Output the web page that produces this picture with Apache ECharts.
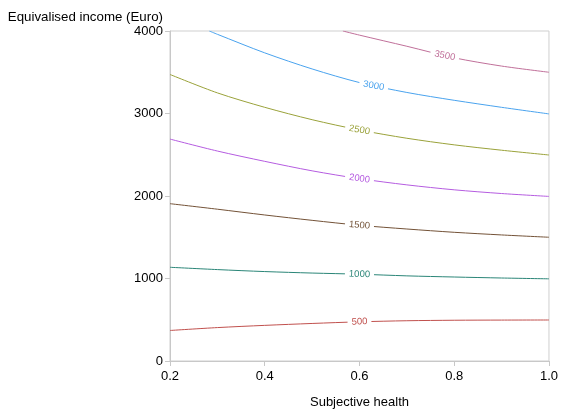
<!DOCTYPE html>
<html>
<head>
<meta charset="utf-8">
<script src="https://cdn.jsdelivr.net/npm/echarts@6/dist/echarts.min.js"></script>
<style>
  html, body { margin: 0; padding: 0; background: #fff; }
  #chart { width: 561px; height: 414px; }
</style>
</head>
<body>
<div id="chart"></div>
<script>
// contour levels and their traced points (x = subjective health, y = income)
var levels = [500, 1000, 1500, 2000, 2500, 3000, 3500];
var colors = ['#c0504d', '#2a8577', '#735237', '#b55ce0', '#9aa23a', '#4aa3ee', '#c0709a'];

var xFull = [0.2, 0.3, 0.4, 0.5, 0.6, 0.7, 0.8, 0.9, 1.0];
var y500  = [370, 405, 432, 455, 475, 488, 494, 496, 497];
var y1000 = [1136, 1108, 1084, 1066, 1052, 1032, 1018, 1006, 996];
var y1500 = [1907, 1840, 1770, 1705, 1645, 1600, 1560, 1528, 1500];
var y2000 = [2690, 2545, 2420, 2305, 2210, 2135, 2075, 2030, 1995];
var y2500 = [3473, 3250, 3075, 2925, 2800, 2700, 2620, 2555, 2497];
var x3000 = [0.283, 0.3, 0.4, 0.5, 0.6, 0.7, 0.8, 0.9, 1.0];
var y3000 = [4000, 3960, 3735, 3540, 3375, 3255, 3160, 3075, 2995];
var x3500 = [0.565, 0.6, 0.7, 0.8, 0.9, 1.0];
var y3500 = [4000, 3950, 3815, 3675, 3575, 3500];

// where each contour carries its label, and the label angle
var labelX = [0.6, 0.6, 0.6, 0.6, 0.6, 0.63, 0.78];
var labelY = [475, 1052, 1645, 2210, 2800, 3335, 3700];
var labelRot = [2, -2, -5, -8, -10, -10, -11];

var lineXs = [xFull, xFull, xFull, xFull, xFull, x3000, x3500];
var lineYs = [y500, y1000, y1500, y2000, y2500, y3000, y3500];

var font = 'Arial, Liberation Sans, sans-serif';
var myChart = echarts.init(document.getElementById('chart'));

var series = levels.map(function (lv, i) {
  return {
    name: String(lv),
    type: 'line',
    smooth: 0.3,
    symbol: 'none',
    lineStyle: { color: colors[i], width: 1 },
    data: lineXs[i].map(function (x, j) { return [x, lineYs[i][j]]; }),
    markPoint: {
      symbol: 'circle',
      symbolSize: 1,
      itemStyle: { color: 'rgba(0,0,0,0)' },
      data: [{
        coord: [labelX[i], labelY[i]],
        value: lv,
        label: {
          show: true,
          position: 'inside',
          formatter: String(lv),
          color: colors[i],
          fontSize: 9.5,
          fontFamily: font,
          rotate: labelRot[i],
          backgroundColor: '#fff',
          padding: [0, 4]
        }
      }]
    }
  };
});

myChart.setOption({
  animation: false,
  grid: {
    left: 170, right: 11, top: 31, bottom: 51,
    show: true, borderColor: '#cfcfcf', borderWidth: 1
  },
  xAxis: {
    type: 'value',
    min: 0.2, max: 1.0, interval: 0.2,
    name: 'Subjective health',
    nameLocation: 'middle',
    nameGap: 35,
    nameTextStyle: { color: '#000', fontSize: 13, fontFamily: font },
    axisLine: { lineStyle: { color: '#c8c8c8' } },
    axisTick: { lineStyle: { color: '#c8c8c8' }, length: 5 },
    axisLabel: {
      color: '#000', fontSize: 13, margin: 9, fontFamily: font,
      formatter: function (v) { return v.toFixed(1); }
    },
    splitLine: { show: false }
  },
  yAxis: {
    type: 'value',
    min: 0, max: 4000, interval: 1000,
    name: 'Equivalised income (Euro)',
    nameLocation: 'end',
    nameGap: 7,
    nameTextStyle: {
      color: '#000', fontSize: 13.3, align: 'right',
      padding: [0, 7, 0, 0], fontFamily: font
    },
    axisLine: { show: true, lineStyle: { color: '#c8c8c8' } },
    axisTick: { show: true, lineStyle: { color: '#c8c8c8' }, length: 5 },
    axisLabel: {
      color: '#000', fontSize: 13, margin: 7, fontFamily: font,
      formatter: function (v) { return String(v); }
    },
    splitLine: { show: false }
  },
  series: series
});
</script>
</body>
</html>
